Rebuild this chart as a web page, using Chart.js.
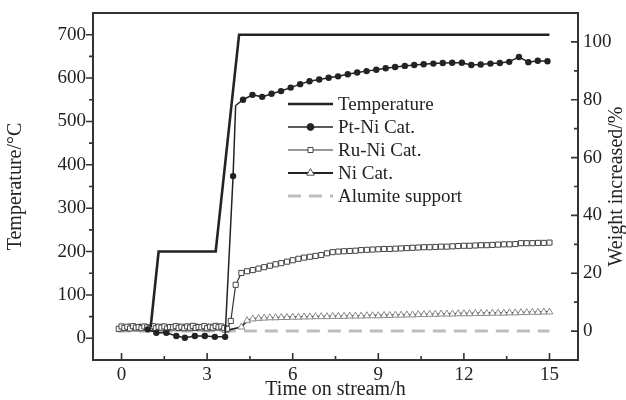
<!DOCTYPE html>
<html lang="en">
<head>
<meta charset="UTF-8">
<title>Weight increase and temperature vs time on stream</title>
<script src="https://cdn.jsdelivr.net/npm/chart.js"></script>
<style>
  body { margin: 0; background: #fff; }
  canvas { display: block; }
</style>
</head>
<body>
<canvas id="chart" width="626" height="400"></canvas>
<script>
// axis tick labels
var timeTicks = [0, 3, 6, 9, 12, 15];
var tempTicks = [0, 100, 200, 300, 400, 500, 600, 700];
var weightTicks = [0, 20, 40, 60, 80, 100];

var seriesNames = ['Temperature', 'Pt-Ni Cat.', 'Ru-Ni Cat.', 'Ni Cat.', 'Alumite support'];

// temperature programme (left axis, °C)
var tempTime = [1.02, 1.3, 3.3, 4.12, 15.0];
var tempValue = [25, 200, 200, 700, 700];

// Pt-Ni weight increase (right axis, %)
var ptTime = [0.92, 1.22, 1.57, 1.92, 2.22, 2.57, 2.92, 3.27, 3.63, 3.91, 4.0,
  4.26, 4.59, 4.93, 5.26, 5.59, 5.93, 6.26, 6.59, 6.93, 7.26, 7.59, 7.93, 8.26,
  8.59, 8.93, 9.26, 9.59, 9.93, 10.26, 10.59, 10.93, 11.26, 11.59, 11.93, 12.26,
  12.59, 12.93, 13.26, 13.59, 13.93, 14.26, 14.59, 14.93];
var ptValue = [0.6, -0.6, -0.6, -1.7, -2.3, -1.7, -1.7, -2.0, -2.0, 53.6, 78.0,
  80.0, 81.7, 81.0, 82.1, 83.0, 84.2, 85.4, 86.4, 87.0, 87.6, 88.1, 88.8, 89.4,
  89.9, 90.4, 90.9, 91.3, 91.7, 92.0, 92.3, 92.5, 92.7, 92.8, 92.8, 92.0,
  92.2, 92.5, 92.7, 93.1, 94.8, 93.0, 93.5, 93.3];

// Ru-Ni and Ni before and during the ramp
var ruEarlyTime = [-0.1, 0.0, 0.1, 0.2, 0.3, 0.4, 0.5, 0.6, 0.7, 0.8, 0.9, 1.0,
  1.1, 1.2, 1.3, 1.4, 1.5, 1.6, 1.7, 1.8, 1.9, 2.0, 2.1, 2.2, 2.3, 2.4, 2.5, 2.6,
  2.7, 2.8, 2.9, 3.0, 3.1, 3.2, 3.3, 3.4, 3.5, 3.6, 3.7, 3.83, 4.0];
var ruEarlyValue = [0.8, 1.6, 1.1, 1.5, 0.9, 1.7, 1.2, 1.4, 1.0, 1.6, 1.3, 1.1,
  1.7, 1.0, 1.5, 1.2, 1.6, 0.9, 1.4, 1.3, 1.7, 1.1, 1.5, 1.0, 1.6, 1.2, 1.8, 1.1,
  1.4, 1.3, 1.7, 1.0, 1.5, 1.2, 1.8, 1.3, 1.6, 1.1, 0.8, 3.5, 16.0];
var niEarlyTime = [-0.05, 0.05, 0.15, 0.25, 0.35, 0.45, 0.55, 0.65, 0.75, 0.85,
  0.95, 1.05, 1.15, 1.25, 1.35, 1.45, 1.55, 1.65, 1.75, 1.85, 1.95, 2.05, 2.15,
  2.25, 2.35, 2.45, 2.55, 2.65, 2.75, 2.85, 2.95, 3.05, 3.15, 3.25, 3.35, 3.45,
  3.55, 3.65];
var niEarlyValue = [0.5, 1.2, 0.7, 1.3, 0.8, 1.1, 0.6, 1.3, 0.9, 1.0,
  0.7, 1.4, 0.8, 1.2, 0.9, 1.3, 0.6, 1.1, 1.0, 1.4, 0.7, 1.2, 0.9,
  1.3, 0.8, 1.1, 1.0, 1.4, 0.7, 1.2, 0.9, 1.3, 0.8, 1.2, 1.0, 1.3,
  0.7, 0.2];

// Ru-Ni and Ni at 700 °C
var lateTime = [4.2, 4.4, 4.6, 4.8, 5.0, 5.2, 5.4, 5.6, 5.8, 6.0, 6.2, 6.4, 6.6,
  6.8, 7.0, 7.2, 7.4, 7.6, 7.8, 8.0, 8.2, 8.4, 8.6, 8.8, 9.0, 9.2, 9.4, 9.6, 9.8,
  10.0, 10.2, 10.4, 10.6, 10.8, 11.0, 11.2, 11.4, 11.6, 11.8, 12.0, 12.2, 12.4,
  12.6, 12.8, 13.0, 13.2, 13.4, 13.6, 13.8, 14.0, 14.2, 14.4, 14.6, 14.8, 15.0];
var ruLateValue = [20.1, 20.7, 21.1, 21.6, 22.1, 22.6, 23.1, 23.5, 24.0, 24.5,
  25.0, 25.4, 25.7, 26.0, 26.3, 26.9, 27.3, 27.5, 27.6, 27.7, 27.8, 28.0, 28.1,
  28.2, 28.3, 28.4, 28.4, 28.5, 28.6, 28.7, 28.8, 28.9, 29.0, 29.0, 29.1, 29.2,
  29.2, 29.3, 29.4, 29.5, 29.5, 29.6, 29.7, 29.7, 29.8, 29.9, 30.0, 30.0, 30.1,
  30.4, 30.4, 30.4, 30.5, 30.5, 30.6];
var niLateValue = [1.4, 3.6, 4.2, 4.4, 4.5, 4.6, 4.6, 4.7, 4.7, 4.8, 4.8, 4.9,
  4.9, 5.0, 5.0, 5.0, 5.1, 5.1, 5.1, 5.2, 5.2, 5.2, 5.3, 5.3, 5.3, 5.4, 5.4, 5.5,
  5.5, 5.6, 5.6, 5.7, 5.7, 5.8, 5.8, 5.9, 5.9, 5.9, 6.0, 6.0, 6.0, 6.1, 6.1, 6.1,
  6.2, 6.2, 6.2, 6.3, 6.3, 6.4, 6.4, 6.5, 6.5, 6.6, 6.6];

// alumite support blank
var alTime = [-0.13, 15.0];
var alValue = [0, 0];

var serif = '"Liberation Serif", "Times New Roman", serif';
var ink = '#232323';

function toPoints(xs, ys) {
  return xs.map(function (x, i) { return { x: x, y: ys[i] }; });
}

function setTicks(values) {
  return function (scale) {
    scale.ticks = values.map(function (v) { return { value: v }; });
  };
}

function fixSize(prop, size) {
  return function (s) {
    s[prop] = size;
    s.paddingTop = s.paddingBottom = s.paddingLeft = s.paddingRight = 0;
  };
}

// frame, ticks, axis titles and the legend inside the plot
var decorations = {
  id: 'decorations',
  afterDatasetsDraw: function (chart) {
    var ctx = chart.ctx, a = chart.chartArea;
    var x = chart.scales.x, y = chart.scales.y, y1 = chart.scales.y1;
    ctx.save();
    ctx.strokeStyle = '#333';
    ctx.lineWidth = 2;
    ctx.strokeRect(a.left, a.top, a.right - a.left, a.bottom - a.top);

    ctx.lineWidth = 1.6;
    function ticks(values, fn) {
      values.forEach(function (v, i) {
        fn(v, 7);
        if (i < values.length - 1) fn((v + values[i + 1]) / 2, 4);
      });
    }
    ctx.beginPath();
    ticks(timeTicks, function (v, len) {
      var px = x.getPixelForValue(v);
      ctx.moveTo(px, a.bottom); ctx.lineTo(px, a.bottom - len);
    });
    ticks(tempTicks, function (v, len) {
      var py = y.getPixelForValue(v);
      ctx.moveTo(a.left, py); ctx.lineTo(a.left - len, py);
    });
    ticks(weightTicks, function (v, len) {
      var py = y1.getPixelForValue(v);
      ctx.moveTo(a.right, py); ctx.lineTo(a.right - len, py);
    });
    ctx.stroke();

    // axis titles
    ctx.fillStyle = ink;
    ctx.font = '20px ' + serif;
    ctx.textAlign = 'center';
    ctx.textBaseline = 'middle';
    ctx.fillText('Time on stream/h', (a.left + a.right) / 2, 390);
    ctx.save();
    ctx.translate(16, (a.top + a.bottom) / 2);
    ctx.rotate(-Math.PI / 2);
    ctx.fillText('Temperature/°C', 0, 0);
    ctx.restore();
    ctx.save();
    ctx.translate(617, (a.top + a.bottom) / 2);
    ctx.rotate(-Math.PI / 2);
    ctx.fillText('Weight increased/%', 0, 0);
    ctx.restore();

    // legend
    var lx0 = 288, lx1 = 333, rowY = 104, rowGap = 23;
    chart.data.datasets.forEach(function (ds, i) {
      var ly = rowY + i * rowGap;
      ctx.save();
      ctx.strokeStyle = ds.borderColor;
      ctx.lineWidth = ds.borderWidth;
      ctx.setLineDash(ds.borderDash || []);
      ctx.beginPath();
      ctx.moveTo(lx0, ly); ctx.lineTo(lx1, ly);
      ctx.stroke();
      ctx.restore();
      if (ds.legendMarker) {
        ctx.save();
        ctx.fillStyle = ds.pointBackgroundColor;
        ctx.strokeStyle = ds.legendMarkerBorder;
        ctx.lineWidth = 1;
        Chart.helpers.drawPoint(ctx, {
          pointStyle: ds.pointStyle,
          radius: ds.legendMarker,
          borderWidth: 1,
          rotation: 0
        }, (lx0 + lx1) / 2, ly);
        ctx.restore();
      }
      ctx.fillStyle = ink;
      ctx.font = '19px ' + serif;
      ctx.textAlign = 'left';
      ctx.textBaseline = 'middle';
      ctx.fillText(ds.label, 338, ly + 1);
    });
    ctx.restore();
  }
};

new Chart(document.getElementById('chart'), {
  type: 'line',
  data: {
    datasets: [
      {
        label: seriesNames[0],
        data: toPoints(tempTime, tempValue),
        yAxisID: 'y',
        borderColor: ink,
        borderWidth: 2.6,
        pointRadius: 0
      },
      {
        label: seriesNames[1],
        data: toPoints(ptTime, ptValue),
        yAxisID: 'y1',
        borderColor: ink,
        borderWidth: 1.5,
        pointStyle: 'circle',
        // the corner point at the top of the jump carries no marker
        pointRadius: function (c) { return c.dataIndex === 10 ? 0 : 3.2; },
        pointBackgroundColor: ink,
        pointBorderColor: ink,
        pointBorderWidth: 0,
        legendMarker: 3.4,
        legendMarkerBorder: ink
      },
      {
        label: seriesNames[2],
        data: toPoints(ruEarlyTime.concat(lateTime), ruEarlyValue.concat(ruLateValue)),
        yAxisID: 'y1',
        borderColor: '#333',
        borderWidth: 1.2,
        pointStyle: 'rect',
        pointRadius: 3.6,
        pointBackgroundColor: '#fff',
        pointBorderColor: '#444',
        pointBorderWidth: 1,
        legendMarker: 3.6,
        legendMarkerBorder: '#444'
      },
      {
        label: seriesNames[3],
        data: toPoints(niEarlyTime.concat(lateTime), niEarlyValue.concat(niLateValue)),
        yAxisID: 'y1',
        borderColor: '#222',
        borderWidth: 1.8,
        pointStyle: 'triangle',
        pointRadius: 4,
        pointBackgroundColor: '#fff',
        pointBorderColor: '#8a8a8a',
        pointBorderWidth: 1,
        legendMarker: 4.4,
        legendMarkerBorder: '#555'
      },
      {
        label: seriesNames[4],
        data: toPoints(alTime, alValue),
        yAxisID: 'y1',
        borderColor: '#bdbdbd',
        borderWidth: 3,
        borderDash: [13, 8],
        pointRadius: 0
      }
    ]
  },
  options: {
    responsive: false,
    animation: false,
    devicePixelRatio: 1,
    layout: { padding: { top: 13, left: 0, right: 0, bottom: 0 } },
    plugins: { legend: { display: false }, tooltip: { enabled: false } },
    scales: {
      x: {
        type: 'linear',
        min: -1,
        max: 16,
        afterBuildTicks: setTicks(timeTicks),
        afterFit: fixSize('height', 40),
        grid: { display: false, drawTicks: false },
        border: { display: false },
        ticks: { padding: 4, color: ink, font: { family: serif, size: 19 } }
      },
      y: {
        position: 'left',
        min: -50,
        max: 750,
        afterBuildTicks: setTicks(tempTicks),
        afterFit: fixSize('width', 93),
        grid: { display: false, drawTicks: false },
        border: { display: false },
        ticks: { padding: 7, color: ink, font: { family: serif, size: 19 } }
      },
      y1: {
        position: 'right',
        min: -10,
        max: 110,
        afterBuildTicks: setTicks(weightTicks),
        afterFit: fixSize('width', 48),
        grid: { display: false, drawTicks: false },
        border: { display: false },
        ticks: { padding: 5, color: ink, font: { family: serif, size: 19 } }
      }
    }
  },
  plugins: [decorations]
});
</script>
</body>
</html>
